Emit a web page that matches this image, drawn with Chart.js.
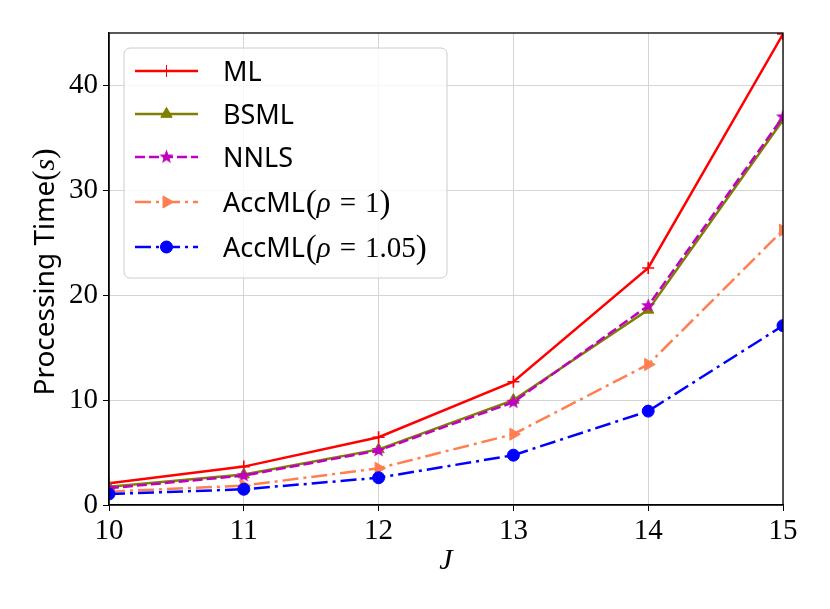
<!DOCTYPE html>
<html><head><meta charset="utf-8">
<script src="https://cdn.jsdelivr.net/npm/chart.js@4.4.1/dist/chart.umd.min.js"></script>
<style>html,body{margin:0;padding:0;background:#fff}#wrap{width:830px;height:609px}</style>
</head><body><div id="wrap"><canvas id="c" width="830" height="609"></canvas></div>
<script>
const J = [10, 11, 12, 13, 14, 15];
const ML = [2.07, 3.66, 6.46, 11.75, 22.6, 44.9];
const BSML = [1.75, 2.9, 5.3, 10.0, 18.6, 36.7];
const NNLS = [1.6, 2.8, 5.2, 9.8, 19.0, 37.0];
const ACC1 = [1.27, 1.85, 3.5, 6.75, 13.4, 26.2];
const ACC105 = [1.05, 1.5, 2.6, 4.75, 8.95, 17.1];
const Y_TICKS = [0, 10, 20, 30, 40];
const X_TICKS = [10, 11, 12, 13, 14, 15];
const NAMES = ['ML', 'BSML', 'NNLS', 'AccML', 'AccML'];
const RHO = [null, null, null, '1', '1.05'];
const Y_TITLE = 'Processing Time';
const Y_TITLE_VAR = 's';
const X_TITLE = 'J';

const SANS = '"Noto Sans", "DejaVu Sans", sans-serif';
const SERIF = '"Liberation Serif", "DejaVu Serif", serif';

function makeStar(r, color) {
  const c = document.createElement('canvas');
  const s = Math.ceil(2 * r + 2);
  c.width = s; c.height = s;
  const g = c.getContext('2d');
  g.fillStyle = color;
  g.beginPath();
  for (let i = 0; i < 10; i++) {
    const rr = i % 2 === 0 ? r : r * 0.42;
    const a = -Math.PI / 2 + i * Math.PI / 5;
    const px = s / 2 + rr * Math.cos(a), py = s / 2 + rr * Math.sin(a);
    if (i === 0) g.moveTo(px, py); else g.lineTo(px, py);
  }
  g.closePath(); g.fill();
  return c;
}
const STAR = makeStar(7.5, '#bf00bf');

const pts = arr => J.map((x, i) => ({x: x, y: arr[i]}));

const LW = 2.5;
const STYLES = [
  {color: '#ff0000', dash: [], point: 'cross', radius: 6, bw: 1.6, fill: '#ff0000'},
  {color: '#808000', dash: [], point: 'triangle', radius: 6.5, bw: 1, fill: '#808000'},
  {color: '#bf00bf', dash: [10, 4], point: STAR, radius: 7, bw: 1, fill: '#bf00bf'},
  {color: '#ff7f50', dash: [16, 5, 3, 5], point: 'triangle', rot: 90, radius: 7, bw: 1, fill: '#ff7f50'},
  {color: '#0000ff', dash: [16, 5, 3, 5], point: 'circle', radius: 6, bw: 1, fill: '#0000ff'}
];
const SERIES = [ML, BSML, NNLS, ACC1, ACC105];

const datasets = SERIES.map((arr, i) => {
  const s = STYLES[i];
  return {
    label: NAMES[i] + (RHO[i] ? '(ρ = ' + RHO[i] + ')' : ''),
    data: pts(arr),
    borderColor: s.color,
    backgroundColor: s.fill,
    borderWidth: LW,
    borderDash: s.dash,
    pointStyle: s.point,
    pointRotation: s.rot || 0,
    pointRadius: s.radius,
    pointBorderWidth: s.bw,
    pointBorderColor: s.color,
    pointBackgroundColor: s.fill,
    tension: 0,
    order: 4 - i
  };
});

function drawRuns(ctx, runs, x, y) {
  let cx = x;
  for (const r of runs) {
    ctx.font = r.font;
    ctx.fillText(r.text, cx + (r.dx || 0), y + (r.dy || 0));
    cx += ctx.measureText(r.text).width + (r.dx || 0) + (r.after || 0);
  }
  return cx;
}
function runsWidth(ctx, runs) {
  let w = 0;
  for (const r of runs) { ctx.font = r.font; w += ctx.measureText(r.text).width + (r.dx || 0) + (r.after || 0); }
  return w;
}

function drawMarker(ctx, i, x, y) {
  const s = STYLES[i];
  ctx.save();
  ctx.setLineDash([]);
  ctx.fillStyle = s.fill; ctx.strokeStyle = s.color;
  if (s.point === STAR) {
    ctx.drawImage(STAR, x - STAR.width / 2, y - STAR.height / 2);
  } else {
    Chart.helpers.drawPoint(ctx, {pointStyle: s.point, rotation: s.rot || 0, radius: s.radius, borderWidth: s.bw}, x, y);
    if (s.point !== 'cross') ctx.fill();
  }
  ctx.restore();
}

const overlay = {
  id: 'overlay',
  afterDatasetsDraw(chart) {
    const ctx = chart.ctx;
    ctx.save();
    const bx = 124, by = 48, bw = 323, bh = 230, rad = 6;
    ctx.beginPath();
    ctx.roundRect(bx, by, bw, bh, rad);
    ctx.fillStyle = 'rgba(255,255,255,0.8)';
    ctx.fill();
    ctx.strokeStyle = '#cccccc';
    ctx.lineWidth = 1;
    ctx.stroke();
    const rows = [71, 114, 157, 202, 247];
    for (let i = 0; i < 5; i++) {
      const s = STYLES[i];
      const y = rows[i];
      ctx.save();
      ctx.strokeStyle = s.color;
      ctx.lineWidth = LW;
      ctx.setLineDash(s.dash);
      ctx.beginPath(); ctx.moveTo(135, y); ctx.lineTo(198, y); ctx.stroke();
      ctx.restore();
      drawMarker(ctx, i, 166.5, y);
      ctx.fillStyle = '#000';
      ctx.textBaseline = 'alphabetic';
      ctx.textAlign = 'left';
      const runs = [{text: NAMES[i], font: '27px ' + SANS}];
      if (RHO[i]) {
        runs.push({text: '(', font: '33px ' + SERIF, dx: 1, dy: 1});
        runs.push({text: 'ρ', font: 'italic 29px ' + SERIF, after: 9});
        runs.push({text: '=', font: '29px ' + SERIF, after: 9});
        runs.push({text: RHO[i], font: '29px ' + SERIF});
        runs.push({text: ')', font: '33px ' + SERIF, dy: 1});
      }
      drawRuns(ctx, runs, 223, y + 10);
    }
    ctx.restore();
  },
  afterDraw(chart) {
    const ctx = chart.ctx;
    const a = chart.chartArea;
    ctx.save();
    ctx.strokeStyle = '#000';
    ctx.lineWidth = 1.3;
    ctx.strokeRect(a.left, a.top, a.right - a.left, a.bottom - a.top);
    ctx.fillStyle = '#000';
    ctx.textAlign = 'center';
    ctx.textBaseline = 'alphabetic';
    ctx.font = 'italic 30px ' + SERIF;
    ctx.fillText(X_TITLE, (a.left + a.right) / 2, 569);
    ctx.translate(54, (a.top + a.bottom) / 2 + 3);
    ctx.rotate(-Math.PI / 2);
    ctx.textAlign = 'left';
    const runs = [
      {text: Y_TITLE, font: '28px ' + SANS},
      {text: '(', font: '31px ' + SERIF},
      {text: Y_TITLE_VAR, font: 'italic 30px ' + SERIF},
      {text: ')', font: '31px ' + SERIF}
    ];
    const w = runsWidth(ctx, runs);
    drawRuns(ctx, runs, -w / 2, 0);
    ctx.restore();
  }
};

new Chart(document.getElementById('c'), {
  type: 'line',
  data: {datasets: datasets},
  options: {
    responsive: false,
    animation: false,
    devicePixelRatio: 1,
    layout: {padding: {left: 0, right: 47, top: 33, bottom: 0}},
    plugins: {legend: {display: false}, tooltip: {enabled: false}},
    scales: {
      x: {
        type: 'linear', min: 10, max: 15,
        afterFit(s) { s.height = 104; },
        afterBuildTicks(s) { s.ticks = X_TICKS.map(v => ({value: v})); },
        grid: {color: '#d5d5d5', lineWidth: 1, tickColor: '#000', tickLength: 6, drawTicks: true},
        border: {display: true, color: '#000', width: 1.3},
        ticks: {color: '#000', font: {family: SERIF, size: 29}, padding: 3, maxRotation: 0,
          callback: v => String(v)}
      },
      y: {
        type: 'linear', min: 0, max: 45,
        afterFit(s) { s.width = 109; },
        afterBuildTicks(s) { s.ticks = Y_TICKS.map(v => ({value: v})); },
        grid: {color: '#d5d5d5', lineWidth: 1, tickColor: '#000', tickLength: 6},
        border: {display: true, color: '#000', width: 1.3},
        ticks: {color: '#000', font: {family: SERIF, size: 29}, padding: 5,
          callback: v => String(v)}
      }
    }
  },
  plugins: [overlay]
});
</script>
</body></html>
